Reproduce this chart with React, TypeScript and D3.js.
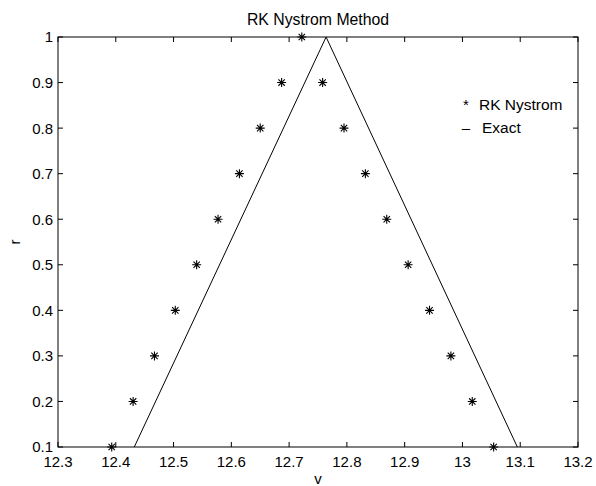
import React from "react";
import * as d3 from "d3";

const W = 596;
const H = 486;

const title = "RK Nystrom Method";
const xLabel = "v";
const yLabel = "r";

const xTicks = [12.3, 12.4, 12.5, 12.6, 12.7, 12.8, 12.9, 13.0, 13.1, 13.2];
const yTicks = [0.1, 0.2, 0.3, 0.4, 0.5, 0.6, 0.7, 0.8, 0.9, 1.0];

// RK Nystrom points (v, r)
const rkV = [
  12.393, 12.430, 12.467, 12.503, 12.540, 12.577, 12.614, 12.650, 12.687, 12.722,
  12.758, 12.795, 12.832, 12.869, 12.906, 12.943, 12.980, 13.017, 13.054,
];
const rkR = [
  0.1, 0.2, 0.3, 0.4, 0.5, 0.6, 0.7, 0.8, 0.9, 1.0,
  0.9, 0.8, 0.7, 0.6, 0.5, 0.4, 0.3, 0.2, 0.1,
];

// Exact solution (v, r)
const exactV = [12.432, 12.764, 13.095];
const exactR = [0.1, 1.0, 0.1];

const legendLabels = ["RK Nystrom", "Exact"];

const FONT = "'Liberation Sans', Arial, Helvetica, sans-serif";

export default function App() {
  const m = { left: 58, right: 578, top: 37, bottom: 447 };
  const x = d3.scaleLinear().domain([12.3, 13.2]).range([m.left, m.right]);
  const y = d3.scaleLinear().domain([0.1, 1.0]).range([m.bottom, m.top]);

  const line = d3
    .line<number>()
    .x((_, i) => x(exactV[i]))
    .y((_, i) => y(exactR[i]));

  const star = (cx: number, cy: number, s: number) => {
    const d = s * 0.7071;
    return `M${cx - s},${cy}H${cx + s}M${cx},${cy - s}V${cy + s}M${cx - d},${cy - d}L${cx + d},${cy + d}M${cx - d},${cy + d}L${cx + d},${cy - d}`;
  };

  const tickLen = 5;
  const fmt = (v: number) => String(+v.toFixed(1));

  return (
    <svg width={W} height={H} style={{ position: "absolute", left: 0, top: 0, background: "#fff" }} fontFamily={FONT}>
      <rect x={0} y={0} width={W} height={H} fill="#fff" />
      {/* Exact line */}
      <path d={line(exactV) || ""} fill="none" stroke="#000" strokeWidth={1} />
      {/* RK points */}
      {rkV.map((v, i) => (
        <path key={i} d={star(x(v), y(rkR[i]), 4.5)} stroke="#000" strokeWidth={1.1} fill="none" />
      ))}
      {/* axes box */}
      <rect x={m.left} y={m.top} width={m.right - m.left} height={m.bottom - m.top} fill="none" stroke="#000" strokeWidth={1} />
      {/* x ticks */}
      {xTicks.map((t) => (
        <g key={"x" + t}>
          <line x1={x(t)} x2={x(t)} y1={m.bottom} y2={m.bottom - tickLen} stroke="#000" />
          <line x1={x(t)} x2={x(t)} y1={m.top} y2={m.top + tickLen} stroke="#000" />
          <text x={x(t)} y={467} textAnchor="middle" fontSize={15} fill="#000">
            {fmt(t)}
          </text>
        </g>
      ))}
      {/* y ticks */}
      {yTicks.map((t) => (
        <g key={"y" + t}>
          <line x1={m.left} x2={m.left + tickLen} y1={y(t)} y2={y(t)} stroke="#000" />
          <line x1={m.right} x2={m.right - tickLen} y1={y(t)} y2={y(t)} stroke="#000" />
          <text x={53} y={y(t)} dy="0.36em" textAnchor="end" fontSize={15} fill="#000">
            {fmt(t)}
          </text>
        </g>
      ))}
      {/* title */}
      <text x={(m.left + m.right) / 2} y={25} textAnchor="middle" fontSize={15.8} fill="#000">
        {title}
      </text>
      {/* axis labels */}
      <text x={(m.left + m.right) / 2} y={484} textAnchor="middle" fontSize={15} fill="#000">
        {xLabel}
      </text>
      <text transform={`translate(20,${(m.top + m.bottom) / 2}) rotate(-90)`} textAnchor="middle" fontSize={15} fill="#000">
        {yLabel}
      </text>
      {/* legend */}
      <text x={466} y={110} textAnchor="middle" fontSize={15} fill="#000">*</text>
      <text x={479} y={110} fontSize={15.5} fill="#000">{legendLabels[0]}</text>
      <text x={466} y={133} textAnchor="middle" fontSize={15} fill="#000">–</text>
      <text x={482} y={133} fontSize={15.5} fill="#000">{legendLabels[1]}</text>
    </svg>
  );
}
